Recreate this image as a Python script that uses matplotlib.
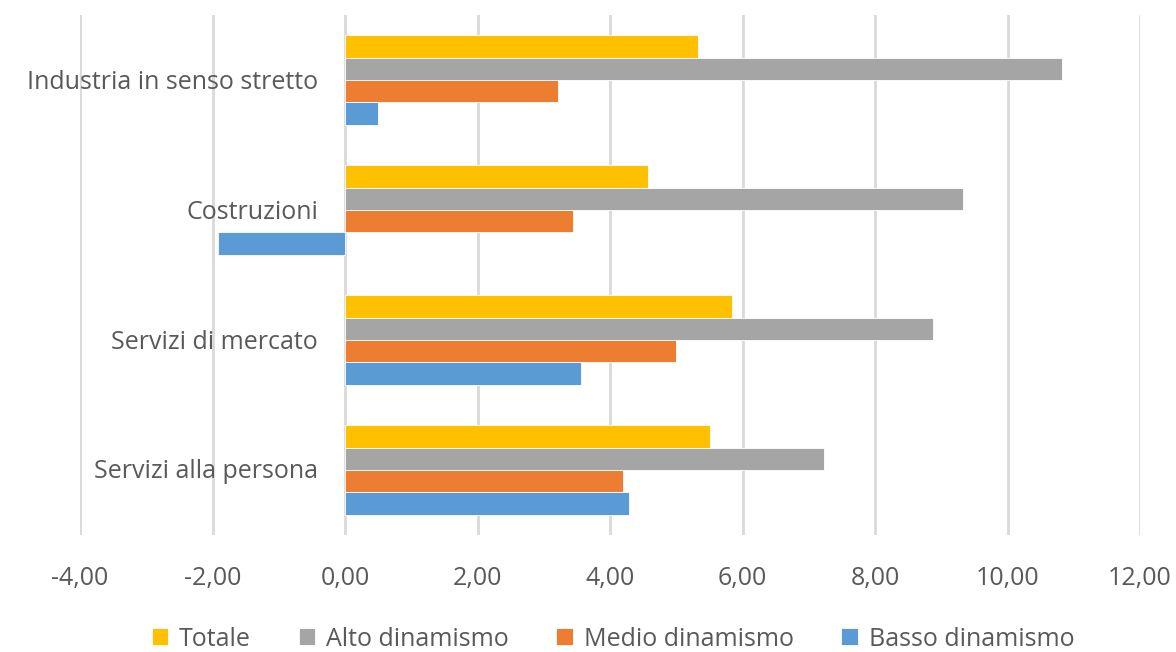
import matplotlib
matplotlib.use("Agg")
import matplotlib.pyplot as plt
import matplotlib.transforms as mtransforms
import numpy as np

plt.rcParams['font.family'] = ['Open Sans', 'DejaVu Sans']

categories = ["Industria in senso stretto", "Costruzioni", "Servizi di mercato", "Servizi alla persona"]
series = ["Totale", "Alto dinamismo", "Medio dinamismo", "Basso dinamismo"]
totale = [5.33, 4.58, 5.84, 5.51]
alto = [10.83, 9.33, 8.87, 7.23]
medio = [3.21, 3.44, 5.00, 4.19]
basso = [0.50, -1.91, 3.56, 4.29]
colors = ["#ffc000", "#a5a5a5", "#ed7d31", "#5b9bd5"]
xticks = [-4, -2, 0, 2, 4, 6, 8, 10, 12]

text_col = "#595959"
fs = 18

fig = plt.figure(figsize=(11.76, 6.52), dpi=100)
ax = fig.add_axes([80 / 1176, 1 - 535 / 652, (1140 - 80) / 1176, 520 / 652])

y = np.arange(len(categories))
h = 0.173
values = [totale, alto, medio, basso]
for i, (name, vals, c) in enumerate(zip(series, values, colors)):
    offs = (i - 1.5) * h
    ax.barh(y + offs, vals, height=h, color=c, label=name,
            edgecolor="white", linewidth=0.6, zorder=3)

ax.set_ylim(len(categories) - 0.5, -0.5)
ax.set_xlim(-4, 12)
ax.set_xticks(xticks)
ax.set_xticklabels([f"{v:.2f}".replace(".", ",") for v in xticks])
ax.set_yticks([])

# category labels sit next to the zero line, like excel does
off = mtransforms.offset_copy(ax.transData, fig=fig, x=-27, y=-2, units="dots")
for yy, cat in zip(y, categories):
    ax.text(0, yy, cat, transform=off, ha="right", va="center",
            fontsize=fs, color=text_col, zorder=2)

ax.grid(axis="x", color="#d9d9d9", linewidth=2, zorder=0)
for s in ax.spines.values():
    s.set_visible(False)
ax.tick_params(axis="both", length=0, colors=text_col, labelsize=fs)
ax.tick_params(axis="x", pad=22)

leg = fig.legend(loc="center", bbox_to_anchor=(613 / 1176, 1 - 639 / 652), ncol=4,
                 frameon=False, fontsize=fs, handlelength=0.65, handleheight=0.65,
                 handletextpad=0.45, columnspacing=1.9)
for t in leg.get_texts():
    t.set_color(text_col)

fig.savefig("out.png", dpi=100)
